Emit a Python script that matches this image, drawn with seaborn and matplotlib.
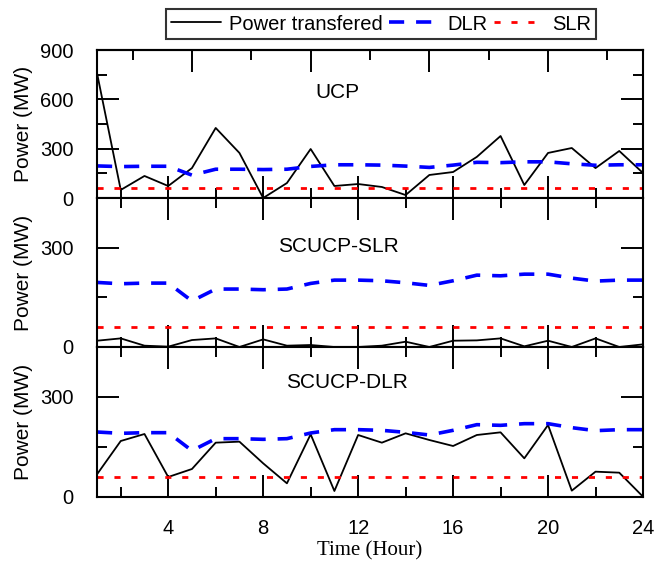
import matplotlib
matplotlib.use("Agg")
import matplotlib.pyplot as plt
import seaborn as sns
import pandas as pd

# ---- data ----
hours = list(range(1, 25))
ucp_power = [760, 49, 134, 73, 182, 426, 274, 0, 91, 298, 73, 85,
             67, 18, 140, 158, 250, 377, 79, 274, 304, 182, 286, 152]
scucp_slr_power = [19, 26, 4, 1, 21, 26, 0, 23, 4, 6, 0, 0,
                   4, 16, 0, 19, 20, 26, 2, 19, 0, 26, 0, 8]
scucp_dlr_power = [68, 168, 189, 60, 84, 163, 166, 101, 41, 188, 18, 186,
                   163, 191, 171, 153, 186, 194, 116, 216, 19, 76, 73, 1]
dlr = [195, 191, 193, 193, 139, 175, 175, 173, 175, 192, 202, 202,
       200, 194, 186, 200, 217, 215, 220, 220, 208, 199, 202, 202]
slr = [60, 60, 60, 60, 60, 60, 60, 60, 60, 60, 60, 60,
       60, 60, 60, 60, 60, 60, 60, 60, 60, 60, 60, 60]
panel_titles = ["UCP", "SCUCP-SLR", "SCUCP-DLR"]
series_names = ["Power transfered", "DLR", "SLR"]
x_major = [4, 8, 12, 16, 20, 24]
x_minor = [2, 6, 10, 14, 18, 22]
top_sec_major = [5, 10, 15, 20]
top_sec_minor = [2.5, 7.5, 12.5, 17.5, 22.5]

sns.set_style("ticks")
plt.rcParams["font.family"] = ["Liberation Sans", "DejaVu Sans"]
for k in ["text.color", "axes.labelcolor", "xtick.color", "ytick.color",
          "axes.edgecolor"]:
    plt.rcParams[k] = "black"

fig = plt.figure(figsize=(6.67, 5.66), dpi=100)
L, R = 97 / 667, 643 / 667
tops = [50, 198, 347]
bots = [198, 347, 497]
axes = []
for t, b in zip(tops, bots):
    ax = fig.add_axes([L, 1 - b / 566, R - L, (b - t) / 566])
    axes.append(ax)

powers = [ucp_power, scucp_slr_power, scucp_dlr_power]
title_pos = [(337, 92), (338, 247), (347, 383)]

for i, ax in enumerate(axes):
    df = pd.DataFrame({"hour": hours, "power": powers[i], "dlr": dlr, "slr": slr})
    sns.lineplot(data=df, x="hour", y="power", ax=ax, color="black", lw=1.3,
                 label=series_names[0])
    sns.lineplot(data=df, x="hour", y="dlr", ax=ax, color="#0000ff", lw=2.6,
                 linestyle=(0, (4.2, 3.3)), label=series_names[1])
    sns.lineplot(data=df, x="hour", y="slr", ax=ax, color="#ff0000", lw=2.0,
                 linestyle=(0, (2.2, 3.9)), label=series_names[2])
    ax.set_xlim(1, 24)
    if i == 0:
        ax.set_ylim(0, 900)
        ax.set_yticks([0, 300, 600, 900])
        ax.set_yticks([150, 450, 750], minor=True)
    else:
        ax.set_ylim(0, 450)
        ax.set_yticks([0, 300])
        ax.set_yticks([150, 450], minor=True)
    ax.set_xticks(x_major)
    ax.set_xticks(x_minor, minor=True)
    ax.tick_params(which="major", direction="in", length=16, width=1.4,
                   top=(i != 0), right=True, labelsize=14.5, pad=16,
                   colors="black")
    ax.tick_params(which="minor", direction="in", length=7.5, width=1.4,
                   top=(i != 0), right=True, colors="black")
    ax.tick_params(axis="y", which="major", pad=17)
    if i < 2:
        ax.tick_params(axis="x", labelbottom=False)
    for s in ax.spines.values():
        s.set_linewidth(1.5)
        s.set_color("black")
    ax.set_ylabel("Power (MW)", fontsize=15, color="black")
    ax.yaxis.set_label_coords(-0.117, 0.5)
    ax.set_xlabel("")
    if ax.get_legend() is not None:
        ax.get_legend().remove()
    tx, ty = title_pos[i]
    fig.text(tx / 667, 1 - ty / 566, panel_titles[i], fontsize=15,
             ha="center", va="center", color="black")

# odd top tick marks of the first panel
sec = axes[0].secondary_xaxis("top")
sec.set_xticks(top_sec_major)
sec.set_xticks(top_sec_minor, minor=True)
sec.tick_params(which="major", direction="in", length=16, width=1.4,
                labeltop=False, colors="black")
sec.tick_params(which="minor", direction="in", length=7.5, width=1.4,
                labeltop=False, colors="black")
sec.spines["top"].set_linewidth(1.5)
sec.spines["top"].set_color("black")

axes[2].set_xlabel("Time (Hour)", fontsize=15, family=["Liberation Serif"],
                   labelpad=2, color="black")

handles, labels = axes[0].get_legend_handles_labels()
leg = fig.legend(handles, labels, loc="center", bbox_to_anchor=(381 / 667, 1 - 24 / 566),
                 ncol=3, fontsize=14.5, frameon=True, fancybox=False,
                 handlelength=2.5, handletextpad=0.4, columnspacing=0.3,
                 borderpad=0.25, borderaxespad=0)
leg.get_frame().set_edgecolor("black")
leg.get_frame().set_linewidth(1.5)
for t in leg.get_texts():
    t.set_color("black")

fig.savefig("out.png", dpi=100)
